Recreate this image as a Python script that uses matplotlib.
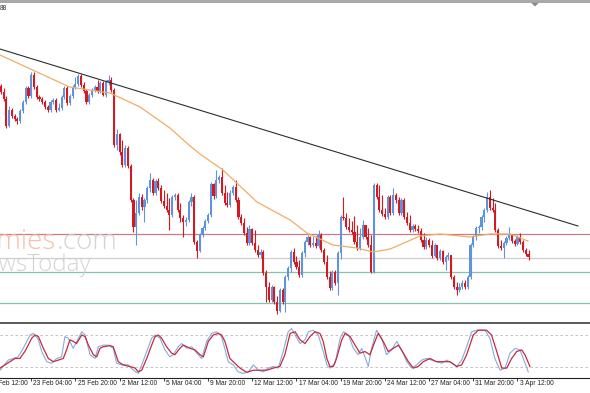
import matplotlib
matplotlib.use("Agg")
import matplotlib.pyplot as plt
import matplotlib.transforms as mtransforms
from matplotlib.lines import Line2D
from matplotlib.patches import Rectangle, Polygon

# ---------------- data (H4 candles, price in points) ----------------
first_bar = 5
opens = [244, 238, 231, 204, 220, 214, 211, 209, 219, 228, 242, 234, 255, 243, 233, 231, 228, 223, 220, 228,
         230, 220, 222, 233, 242, 227, 234, 243, 246, 254, 245, 239, 228, 235, 240, 243, 239, 247, 235, 248,
         250,
         240, 185, 196, 178, 165, 182, 164, 130, 103, 117, 133, 123, 130, 142, 150, 137, 149, 142, 129, 124,
         120, 115, 133, 135, 120, 112, 108, 110, 128, 133, 88,
         79, 95, 102, 109, 115, 146, 134, 150, 153, 137, 127, 125, 137, 143, 130, 113, 107, 97, 87, 101,
         87, 80, 75, 78, 57, 43, 30, 43, 28, 19, 40, 28, 53, 62, 78, 68, 63, 55, 77, 88,
         93, 85, 87, 84, 95, 80, 68, 53, 42, 58, 47, 77, 113, 112, 103, 100, 98, 88, 82, 93,
         105, 93, 85, 58, 145, 133, 120, 116, 113, 133,
         117, 135, 130, 117, 130, 113, 107, 100, 104, 101, 99, 90, 83, 90, 85, 74, 85, 72, 79, 68,
         73, 75, 53, 43, 40, 43, 47, 43, 53, 85, 93, 102, 103, 113, 120, 133, 122, 120, 100, 84,
         82, 87, 92, 95, 89, 86, 93, 88, 80, 76]
closes = [238, 231, 204, 220, 214, 211, 209, 219, 228, 242, 234, 255, 243, 233, 231, 228, 223, 220, 228, 230,
          220, 222, 233, 242, 227, 234, 243, 246, 254, 245, 239, 228, 235, 240, 243, 239, 247, 235, 248, 250,
          240,
          185, 196, 178, 165, 182, 164, 130, 103, 117, 133, 123, 130, 142, 150, 137, 149, 142, 129, 124, 120,
          115, 133, 135, 120, 112, 108, 110, 128, 133, 88, 79,
          95, 102, 109, 115, 146, 134, 150, 153, 137, 127, 125, 137, 143, 130, 113, 107, 97, 87, 101, 87,
          80, 75, 78, 57, 43, 30, 43, 28, 19, 40, 28, 53, 62, 78, 68, 63, 55, 77, 88, 93,
          85, 87, 84, 95, 80, 68, 53, 42, 58, 47, 77, 113, 112, 103, 100, 98, 88, 82, 93, 105,
          93, 85, 58, 145, 133, 120, 116, 113, 133, 117,
          135, 130, 117, 130, 113, 107, 100, 104, 101, 99, 90, 83, 90, 85, 74, 85, 72, 79, 68, 73,
          75, 53, 43, 40, 43, 47, 43, 53, 85, 93, 102, 103, 113, 120, 133, 122, 120, 100, 84, 82,
          87, 92, 95, 89, 86, 93, 88, 80, 76, 73]
highs = [246, 242, 234, 224, 222, 216, 213, 221, 230, 244, 244, 258, 258, 245, 235, 233, 230, 225, 230, 232,
         232, 227, 235, 244, 244, 236, 245, 253, 256, 256, 248, 241, 237, 242, 245, 250, 249, 249, 250, 255,
         253,
         242, 201, 197, 190, 185, 184, 166, 132, 130, 137, 136, 132, 144, 157, 152, 151, 152, 145, 140, 137,
         132, 135, 137, 137, 127, 115, 113, 130, 137, 135, 90,
         97, 104, 111, 117, 148, 147, 160, 155, 162, 145, 138, 140, 145, 150, 133, 116, 112, 103, 105, 102,
         100, 85, 81, 80, 60, 48, 45, 44, 34, 42, 42, 55, 64, 80, 82, 74, 70, 79, 90, 95,
         94, 94, 94, 100, 97, 82, 75, 59, 60, 60, 79, 115, 133, 117, 112, 109, 114, 105, 102, 110,
         105, 102, 95, 147, 147, 145, 135, 122, 135, 135,
         142, 137, 133, 132, 132, 118, 115, 106, 106, 105, 102, 97, 93, 92, 90, 87, 85, 81, 80, 75,
         78, 75, 55, 48, 47, 50, 50, 55, 87, 95, 104, 105, 115, 122, 138, 140, 132, 127, 102, 90,
         89, 94, 103, 96, 91, 95, 97, 90, 82, 80]
lows = [236, 229, 202, 203, 212, 209, 206, 207, 217, 226, 232, 232, 241, 231, 229, 226, 221, 218, 218, 226,
        218, 219, 220, 231, 225, 225, 232, 241, 244, 243, 237, 226, 226, 233, 238, 237, 237, 234, 233, 245,
        238,
        183, 180, 175, 163, 163, 162, 128, 98, 85, 115, 120, 108, 127, 138, 135, 135, 140, 127, 122, 118,
        100, 113, 130, 118, 108, 93, 104, 108, 124, 86, 72,
        78, 93, 100, 107, 113, 131, 132, 147, 135, 125, 123, 123, 135, 128, 111, 105, 95, 85, 85, 85,
        78, 73, 72, 55, 28, 28, 28, 26, 16, 18, 26, 18, 50, 58, 66, 61, 53, 53, 73, 85,
        83, 83, 82, 82, 78, 66, 51, 40, 40, 45, 35, 71, 110, 101, 98, 96, 86, 80, 80, 91,
        91, 83, 57, 57, 131, 118, 114, 111, 111, 115,
        115, 127, 115, 115, 111, 105, 98, 98, 99, 97, 88, 81, 81, 83, 72, 73, 70, 70, 66, 60,
        70, 51, 41, 35, 38, 41, 41, 41, 51, 83, 90, 97, 100, 108, 118, 120, 118, 98, 82, 80,
        72, 85, 90, 87, 84, 85, 86, 78, 74, 70]

# moving average read at (bar, price)
ma_points = [(4.7, 275), (29.9, 243), (44.5, 237), (55.4, 223), (66.2, 202), (73.5, 184), (77.1, 176),
             (85.4, 160), (97.7, 128), (109.7, 110), (115.8, 97), (125.2, 85), (133.9, 82), (139.7, 78),
             (145.9, 81), (156.7, 94), (164.0, 96), (174.8, 93), (182.0, 96), (189.3, 96), (195.8, 89)]
trend_points = [(4.7, 281), (213.9, 104)]
level_red = 96.5
level_gray = 72
level_green_1 = 58
level_green_2 = 27.5

tick_bars = [0, 16, 32, 48, 64, 80, 96, 112, 128, 144, 160, 176, 192]
tick_labels = ["20 Feb 12:00", "23 Feb 04:00", "25 Feb 20:00", "2 Mar 12:00", "5 Mar 04:00",
               "9 Mar 20:00", "12 Mar 12:00", "17 Mar 04:00", "19 Mar 20:00", "24 Mar 12:00",
               "27 Mar 04:00", "31 Mar 20:00", "3 Apr 12:00"]

stoch_signal = [(4.7, 18), (8.3, 30), (10.1, 36), (11.9, 36), (13.7, 49), (16.2, 74), (17.4, 80), (18.6, 77),
                (20.4, 55), (22.2, 36), (24.0, 30), (25.8, 33), (27.6, 36), (28.8, 52), (30.0, 71), (31.2, 68),
                (32.4, 64), (34.3, 80), (35.5, 77), (36.7, 61), (38.5, 43), (39.7, 39), (40.9, 55), (42.1, 58),
                (44.5, 60), (45.7, 58), (47.5, 30), (49.3, 24), (51.7, 21), (53.6, 18), (54.8, 11), (56.0, 14),
                (57.8, 36), (59.6, 61), (60.8, 77), (62.0, 80), (63.2, 74), (65.0, 58), (66.8, 46), (68.0, 43),
                (69.8, 55), (71.0, 61), (72.3, 58), (73.5, 55), (75.3, 52), (77.1, 43), (78.3, 39), (80.1, 68),
                (81.9, 80), (83.7, 83), (84.9, 80), (86.1, 68), (87.9, 36), (89.7, 27), (91.6, 18), (94.0, 10),
                (96.4, 14), (98.8, 14), (101.2, 14), (103.6, 18), (106.0, 21), (107.8, 43), (109.7, 83),
                (111.5, 86), (113.3, 71), (115.1, 64), (116.9, 77), (118.7, 86), (120.5, 83), (121.7, 68),
                (123.0, 36), (124.1, 21), (125.3, 21), (126.5, 36), (128.4, 71), (129.6, 83), (131.4, 77),
                (133.2, 61), (135.0, 46), (136.8, 49), (138.6, 43), (140.4, 68), (141.6, 83), (143.4, 68),
                (145.2, 49), (147.1, 55), (148.9, 61), (150.7, 46), (152.5, 30), (154.3, 18), (156.1, 21),
                (157.9, 30), (160.3, 36), (162.7, 30), (165.2, 30), (167.6, 30), (170.0, 21), (171.8, 24),
                (173.6, 43), (176.0, 80), (177.8, 89), (180.8, 89), (182.6, 80), (184.5, 49), (186.3, 18),
                (188.1, 18), (189.9, 36), (191.7, 49), (193.5, 52), (194.7, 43), (196.5, 21)]
stoch_main = [(4.7, 14), (7.7, 33), (9.5, 36), (11.3, 39), (13.1, 55), (15.6, 80), (16.8, 83), (18.6, 71),
              (19.8, 49), (21.6, 30), (23.4, 27), (25.2, 36), (27.0, 39), (28.2, 77), (29.4, 74), (31.2, 55),
              (33.1, 74), (34.3, 86), (35.5, 80), (37.3, 43), (39.1, 36), (40.3, 58), (42.1, 61), (43.9, 61),
              (45.7, 55), (46.9, 27), (48.7, 24), (51.1, 24), (53.0, 14), (54.8, 8), (56.0, 24), (57.8, 49),
              (59.6, 74), (60.8, 80), (62.6, 74), (64.4, 52), (66.2, 39), (67.4, 43), (69.2, 58), (70.4, 64),
              (72.3, 55), (74.1, 58), (75.9, 46), (77.7, 36), (79.5, 68), (81.3, 83), (83.1, 86), (84.9, 77),
              (87.3, 30), (89.1, 24), (90.9, 11), (92.8, 8), (94.6, 11), (96.4, 24), (98.2, 14), (100.0, 11),
              (101.8, 18), (103.6, 21), (105.4, 18), (107.2, 49), (109.0, 86), (110.2, 92), (111.5, 80),
              (113.3, 64), (115.1, 71), (116.3, 86), (118.1, 89), (119.9, 80), (121.7, 49), (123.0, 24),
              (124.1, 18), (126.0, 27), (127.8, 74), (129.0, 86), (130.8, 80), (132.6, 55), (134.4, 43),
              (135.6, 55), (136.8, 39), (138.0, 21), (139.2, 55), (141.0, 89), (142.8, 74), (144.6, 43),
              (146.4, 52), (148.3, 68), (150.1, 52), (151.9, 30), (153.7, 18), (155.5, 24), (157.3, 33),
              (159.1, 36), (160.9, 33), (162.7, 30), (164.5, 27), (166.4, 33), (168.2, 27), (170.0, 21),
              (171.8, 33), (173.6, 58), (175.4, 86), (177.2, 89), (180.2, 89), (182.0, 74), (183.8, 36),
              (185.7, 14), (187.5, 18), (189.3, 46), (191.1, 55), (192.9, 52), (194.1, 36), (195.9, 11)]
stoch_levels = [80, 20]

# ---------------- layout ----------------
W, H = 590, 393
BAR_PX = 2.763          # horizontal pixels per bar
BAR0_PX = -13.0         # pixel position of bar 0
xlim = ((0 - BAR0_PX) / BAR_PX, (W - BAR0_PX) / BAR_PX)

BULL = '#5f93de'
BEAR = '#d81820'

fig = plt.figure(figsize=(W / 100, H / 100), dpi=100)
fig.patch.set_facecolor('white')


def fy(ypx):
    return 1 - ypx / H


def fx(xpx):
    return xpx / W


# main price panel
ax = fig.add_axes([0, fy(321), 1, (321 - 3) / H])
ax.set_xlim(*xlim)
ax.set_ylim(9, 327)
ax.axis('off')

for lv, col in [(level_red, '#d07a86'), (level_gray, '#cfcfcf'),
                (level_green_1, '#86c6a8'), (level_green_2, '#86c6a8')]:
    ax.axhline(lv, color=col, lw=0.9, zorder=2)

idx = list(range(first_bar, first_bar + len(closes)))
cols = [BULL if c > o else BEAR for o, c in zip(opens, closes)]
ax.vlines(idx, lows, highs, colors=cols, lw=0.8, zorder=3)
ax.bar(idx, [max(abs(c - o), 0.8) for o, c in zip(opens, closes)],
       bottom=[min(o, c) for o, c in zip(opens, closes)],
       width=0.78, color=cols, linewidth=0, zorder=4)

ax.plot([p[0] for p in ma_points], [p[1] for p in ma_points], color='#f0ad66', lw=0.9, zorder=5)
ax.plot([p[0] for p in trend_points], [p[1] for p in trend_points], color='#2e2e2e', lw=0.8, zorder=6)

# stochastic panel
ax2 = fig.add_axes([0, fy(377.7), 1, (377.7 - 324.3) / H])
for s in ['top', 'left', 'right']:
    ax2.spines[s].set_visible(False)
ax2.spines['bottom'].set_color('#222222')
ax2.spines['bottom'].set_linewidth(0.8)
ax2.set_yticks([])
ax2.set_xticks(tick_bars)
ax2.set_xticklabels([])
ax2.tick_params(axis='x', length=2.5, width=0.6, color='#222222', direction='out')
ax2.set_xlim(*xlim)
ax2.set_ylim(0, 100)
for lv in stoch_levels:
    ax2.axhline(lv, color='#b9b9b9', lw=0.6, ls=(0, (3, 3)))
ax2.plot([p[0] for p in stoch_main], [p[1] for p in stoch_main], color='#86acd9', lw=0.8, zorder=3)
ax2.plot([p[0] for p in stoch_signal], [p[1] for p in stoch_signal], color='#c62a3e', lw=0.9, zorder=4)

trans = mtransforms.blended_transform_factory(ax2.transData, fig.transFigure)
for b, lab in zip(tick_bars, tick_labels):
    ax2.text(b + 0.8, fy(383.5), lab, transform=trans, fontsize=4.8, ha='left', va='center',
             family='Liberation Sans', color='#222222', clip_on=False)

# frame pieces
fig.add_artist(Rectangle((0, fy(2.6)), 1, 2.6 / H, transform=fig.transFigure,
                         facecolor='#a9a9a9', edgecolor='none'))
fig.add_artist(Line2D([0, 1], [fy(322.8)] * 2, transform=fig.transFigure, color='#5a5a5a', lw=1.4))
fig.add_artist(Polygon([(fx(531), fy(2.6)), (fx(539), fy(2.6)), (fx(535), fy(6.5))],
                       closed=True, transform=fig.transFigure, facecolor='#8a8a8a', edgecolor='none'))

fig.text(fx(0), fy(8.5), '88', fontsize=4.8, ha='left', va='center', color='#303030',
         family='Liberation Sans')

# watermark (partly outside the left edge, as in the screenshot)
fig.text(fx(56), fy(249), 'Economies', ha='right', va='baseline', fontsize=20, color='#f3b898',
         family='Open Sans', fontweight='light', alpha=0.85, zorder=10)
fig.text(fx(56.5), fy(249), '.com', ha='left', va='baseline', fontsize=20, color='#cdcdcd',
         family='Open Sans', fontweight='light', alpha=0.85, zorder=10)
fig.text(fx(91), fy(271), 'NewsToday', ha='right', va='baseline', fontsize=17.5, color='#cdcdcd',
         family='Open Sans', fontweight='light', alpha=0.85, zorder=10)

fig.savefig('out.png', dpi=100, facecolor='white')
